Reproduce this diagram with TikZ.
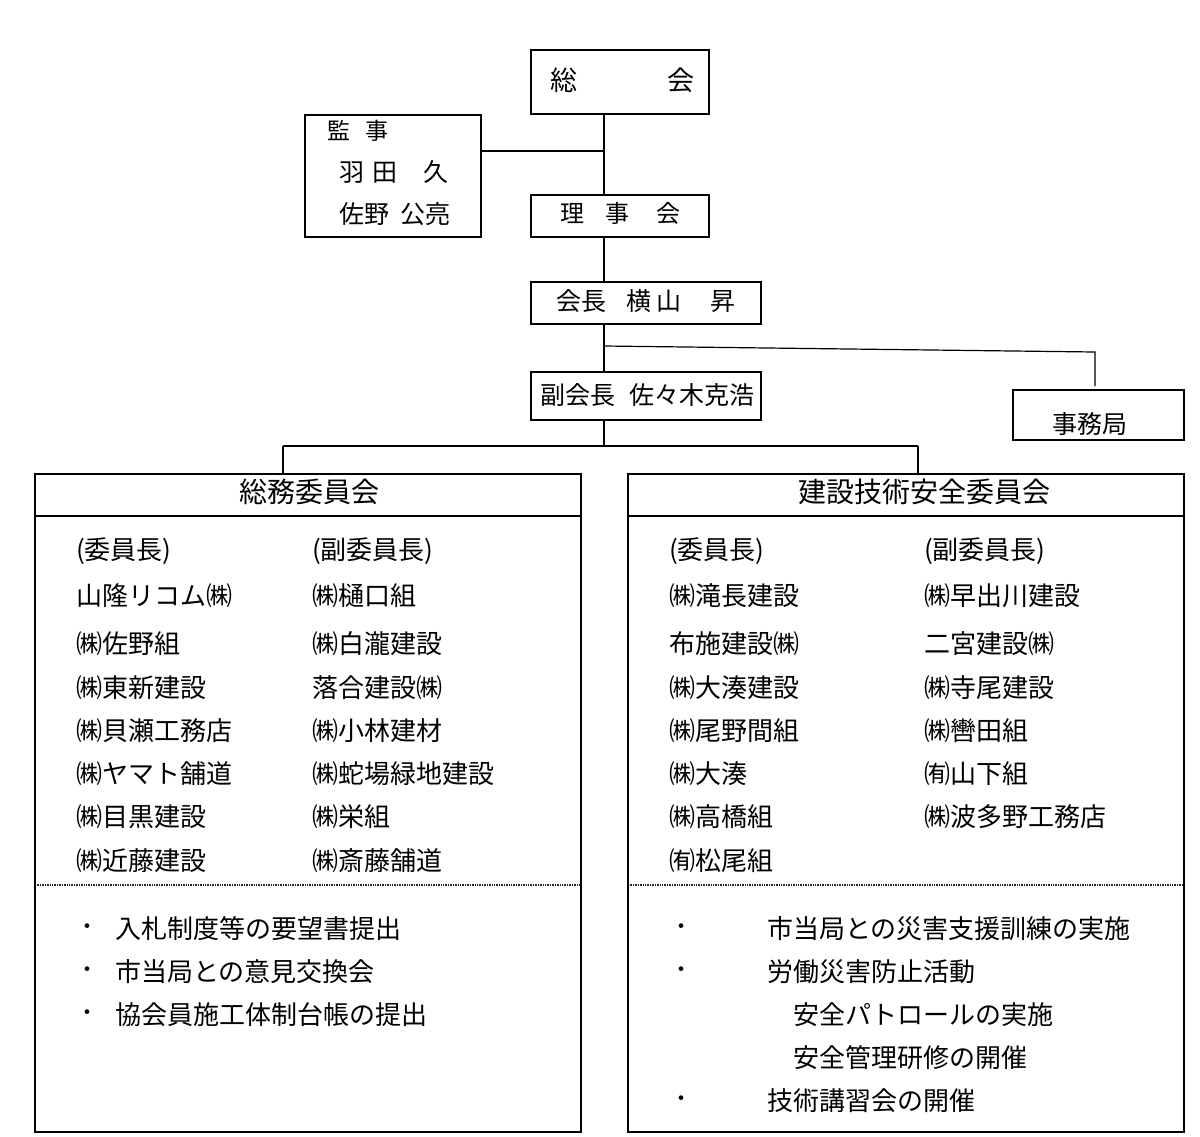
\documentclass[tikz,border=0pt]{standalone}
\usepackage{fontspec}
\setmainfont{Noto Sans CJK JP}
\begin{document}
\begin{tikzpicture}[x=1pt,y=-1pt,
  boxst/.style={draw,line width=2.6pt,inner sep=0,outer sep=0,rectangle},
  conn/.style={line width=2pt},
  thinconn/.style={line width=1.2pt},
  txt/.style={anchor=west,inner sep=0,font=\fontsize{26}{30}\selectfont},
  ctxt/.style={anchor=center,inner sep=0,font=\fontsize{25}{30}\selectfont},
  ttl/.style={anchor=center,inner sep=0,font=\fontsize{28}{32}\selectfont},
  dot/.style={anchor=center,inner sep=0,font=\fontsize{22}{26}\selectfont}]
\useasboundingbox (0,0) rectangle (1200,1136);

% ---- top boxes ----
\node[boxst,minimum width=178pt,minimum height=64pt] (sokai) at (620,82) {};
\node[ctxt,font=\fontsize{27}{30}\selectfont] (sokaiT) at (622,80) {総\hspace{90pt}会};

\node[boxst,minimum width=176pt,minimum height=122pt] (kansa) at (393,176) {};
\node[txt,font=\fontsize{23}{28}\selectfont] (kansaT1) at (327,131) {監\hspace{15pt}事};
\node[txt,font=\fontsize{25}{30}\selectfont] (kansaT2) at (339,172) {羽\hspace{8pt}田\hspace{26pt}久};
\node[txt,font=\fontsize{25}{30}\selectfont] (kansaT3) at (339,214) {佐野\hspace{11pt}公亮};

\node[boxst,minimum width=178pt,minimum height=42pt] (riji) at (620,216) {};
\node[ctxt,font=\fontsize{24}{28}\selectfont] (rijiT) at (620,213) {理\hspace{21pt}事\hspace{27pt}会};

\node[boxst,minimum width=230pt,minimum height=42pt] (kaicho) at (646,303) {};
\node[txt,font=\fontsize{25}{30}\selectfont] (kaichoT) at (556,301) {会長\hspace{20pt}横\hspace{5pt}山\hspace{29pt}昇};

\node[boxst,minimum width=230pt,minimum height=48pt] (fuku) at (646,396) {};
\node[txt,font=\fontsize{25}{30}\selectfont] (fukuT) at (540,395) {副会長\hspace{14pt}佐々木克浩};

\node[boxst,minimum width=171pt,minimum height=50pt] (jimu) at (1098.5,415) {};
\node[ctxt] (jimuT) at (1090,424) {事務局};

% ---- committee boxes ----
\node[boxst,minimum width=546pt,minimum height=658pt] (somu) at (308,803) {};
\node[boxst,minimum width=556pt,minimum height=658pt] (kensetsu) at (906,803) {};
\node[ttl] (somuT) at (309,492) {総務委員会};
\node[ttl] (kensetsuT) at (924,492) {建設技術安全委員会};

\draw[line width=2.6pt] (somu.west |- 0,516) -- (somu.east |- 0,516);
\draw[line width=2.6pt] (kensetsu.west |- 0,516) -- (kensetsu.east |- 0,516);
\draw[line width=2.4pt,dash pattern=on 1pt off 0.7pt,black!85] ([xshift=1.5pt]somu.west |- 0,885) -- ([xshift=-1.5pt]somu.east |- 0,885);
\draw[line width=2.4pt,dash pattern=on 1pt off 0.7pt,black!85] ([xshift=1.5pt]kensetsu.west |- 0,885) -- ([xshift=-1.5pt]kensetsu.east |- 0,885);

% ---- connectors ----
\coordinate (trunk) at (604,151);
\coordinate (br1) at (604,346);
\coordinate (br2) at (1095,352);
\coordinate (split) at (604,446);
\coordinate (splitL) at (283,446);
\coordinate (splitR) at (918,446);
\draw[conn] (sokai.south -| trunk) -- (riji.north -| trunk);
\draw[conn] (kansa.east |- trunk) -- (trunk);
\draw[conn] (riji.south -| trunk) -- (kaicho.north -| trunk);
\draw[conn] (kaicho.south -| trunk) -- (fuku.north -| trunk);
\draw[thinconn] (br1) -- (br2) -- ([yshift=4pt]br2 |- jimu.north);
\draw[conn] (fuku.south -| trunk) -- (split);
\draw[conn] (splitL) -- (splitR);
\draw[conn] (splitL) -- (splitL |- somu.north);
\draw[conn] (splitR) -- (splitR |- kensetsu.north);

% ---- left committee members ----
\node[txt] (l1h) at (76,551) {(委員長)};
\node[txt] (l1a) at (76,596) {山隆リコム㈱};
\node[txt] (l1b) at (76,644) {㈱佐野組};
\node[txt] (l1c) at (76,688) {㈱東新建設};
\node[txt] (l1d) at (76,731) {㈱貝瀬工務店};
\node[txt] (l1e) at (76,774) {㈱ヤマト舗道};
\node[txt] (l1f) at (76,817) {㈱目黒建設};
\node[txt] (l1g) at (76,861) {㈱近藤建設};

\node[txt] (l2h) at (312,551) {(副委員長)};
\node[txt] (l2a) at (312,596) {㈱樋口組};
\node[txt] (l2b) at (312,644) {㈱白瀧建設};
\node[txt] (l2c) at (312,688) {落合建設㈱};
\node[txt] (l2d) at (312,731) {㈱小林建材};
\node[txt] (l2e) at (312,774) {㈱蛇場緑地建設};
\node[txt] (l2f) at (312,817) {㈱栄組};
\node[txt] (l2g) at (312,861) {㈱斎藤舗道};

% ---- right committee members ----
\node[txt] (r1h) at (669,551) {(委員長)};
\node[txt] (r1a) at (669,596) {㈱滝長建設};
\node[txt] (r1b) at (669,644) {布施建設㈱};
\node[txt] (r1c) at (669,688) {㈱大湊建設};
\node[txt] (r1d) at (669,731) {㈱尾野間組};
\node[txt] (r1e) at (669,774) {㈱大湊};
\node[txt] (r1f) at (669,817) {㈱高橋組};
\node[txt] (r1g) at (669,861) {㈲松尾組};

\node[txt] (r2h) at (924,551) {(副委員長)};
\node[txt] (r2a) at (924,596) {㈱早出川建設};
\node[txt] (r2b) at (924,644) {二宮建設㈱};
\node[txt] (r2c) at (924,688) {㈱寺尾建設};
\node[txt] (r2d) at (924,731) {㈱轡田組};
\node[txt] (r2e) at (924,774) {㈲山下組};
\node[txt] (r2f) at (924,817) {㈱波多野工務店};

% ---- activities ----
\node[dot] (lb1) at (87,929) {・};
\node[dot] (lb2) at (87,972) {・};
\node[dot] (lb3) at (87,1015) {・};
\node[txt] (la1) at (115,929) {入札制度等の要望書提出};
\node[txt] (la2) at (115,972) {市当局との意見交換会};
\node[txt] (la3) at (115,1015) {協会員施工体制台帳の提出};

\node[dot] (rb1) at (681,929) {・};
\node[dot] (rb2) at (681,972) {・};
\node[dot] (rb5) at (681,1101) {・};
\node[txt] (ra1) at (767,929) {市当局との災害支援訓練の実施};
\node[txt] (ra2) at (767,972) {労働災害防止活動};
\node[txt] (ra3) at (793,1015) {安全パトロールの実施};
\node[txt] (ra4) at (793,1058) {安全管理研修の開催};
\node[txt] (ra5) at (767,1101) {技術講習会の開催};
\end{tikzpicture}
\end{document}
